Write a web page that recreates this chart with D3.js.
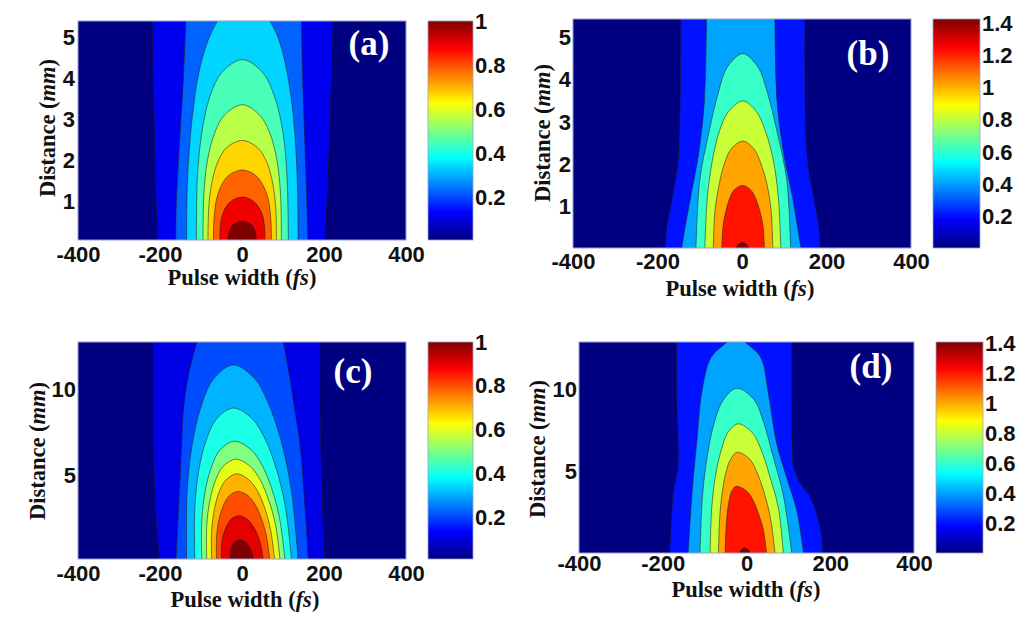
<!DOCTYPE html>
<html><head><meta charset="utf-8">
<script src="https://cdn.jsdelivr.net/npm/d3@7"></script>
<style>body{margin:0;background:#fff} svg{display:block}</style>
</head><body>
<svg id="chart" width="1021" height="618"></svg>
<script>
// ---------- data ----------
const panelLabels = ["(a)", "(b)", "(c)", "(d)"];
const pulseTicks = [-400, -200, 0, 200, 400];
const pulseRange = [-400, 400];
const distanceRange = [[0.065, 5.4], [0.02, 5.44], [0.12, 12.8], [0, 12.9]];
const distanceTicks = [[1, 2, 3, 4, 5], [1, 2, 3, 4, 5], [5, 10], [5, 10]];
const intensityRange = [[0.005, 1], [0.005, 1.425], [0.012, 1], [0.005, 1.41]];
const intensityTicks = [[0.2, 0.4, 0.6, 0.8, 1], [0.2, 0.4, 0.6, 0.8, 1, 1.2, 1.4],
                        [0.2, 0.4, 0.6, 0.8, 1], [0.2, 0.4, 0.6, 0.8, 1, 1.2, 1.4]];

// contour boundaries, outermost first: rows of [distance (mm), left edge (fs), right edge (fs)]
const contoursA = [
  [[0,-205,202],[1,-209,207],[2.5,-213,213],[4,-216,218],[5.4,-218,222]],
  [[0,-162,161],[1,-160,158],[2.5,-152,153],[4,-143,148],[5.4,-137,145]],
  [[0,-135,137],[1.5,-133,135],[3,-122,126],[4.2,-104,109],[5,-80,88],[5.4,-60,68]],
  [[0,-111,113],[1.56,-109,110],[2.68,-98,100],[3.57,-78,79],[4.15,-49,50],[4.46,1,1]],
  [[0,-95,96],[1.18,-93,94],[2.02,-84,85],[2.69,-66,67],[3.12,-42,42],[3.36,1,1]],
  [[0,-83,84],[0.87,-81,82],[1.49,-73,74],[1.99,-58,59],[2.32,-37,37],[2.49,1,1]],
  [[0,-70,72],[0.62,-68,70],[1.06,-62,64],[1.42,-49,50],[1.65,-31,32],[1.77,1,1]],
  [[0,-54,56],[0.39,-53,55],[0.67,-48,50],[0.89,-38,39],[1.03,-24,25],[1.11,1,1]],
  [[0,-34,35],[0.18,-33,34],[0.31,-30,31],[0.42,-24,25],[0.48,-15,16],[0.52,1,1]]
];
const contoursB = [
  [[0,-182,185],[0.5,-178,182],[1.2,-165,170],[2,-152,156],[3,-147,150],[5.44,-145,149]],
  [[0,-143,140],[0.6,-133,130],[1.2,-122,120],[2.3,-102,98],[3.5,-89,83],[5.44,-84,78]],
  [[0,-109,115],[1.62,-100,106],[2.77,-78,83],[3.7,-56,60],[4.3,-35,38],[4.62,2,2]],
  [[0,-88,92],[1.22,-82,86],[2.1,-70,74],[2.8,-53,55],[3.25,-32,34],[3.5,2,2]],
  [[0,-68,73],[0.89,-64,69],[1.53,-54,59],[2.04,-41,44],[2.37,-25,28],[2.55,2,2]],
  [[0,-48,53],[0.52,-45,50],[0.9,-38,42],[1.2,-29,32],[1.4,-18,20],[1.5,2,2]],
  [[0,-14,16],[0.08,-11,13],[0.15,1,1]]
];
const contoursC = [
  [[0,-200,202],[2,-208,198],[6,-215,193],[9,-216,190],[12.8,-216,189]],
  [[0,-161,162],[3,-155,154],[6.9,-147,141],[8.8,-143,129],[10.8,-131,116],[12.8,-110,101]],
  [[0,-135,137],[4.01,-134,121],[6.88,-121,97],[9.17,-98,65],[10.66,-69,31],[11.46,-21,-21]],
  [[0,-115,121],[3.13,-115,106],[5.36,-105,84],[7.15,-86,56],[8.31,-62,25],[8.94,-21,-21]],
  [[0,-98,105],[2.45,-98,92],[4.2,-89,73],[5.6,-73,49],[6.51,-53,22],[7.0,-18,-18]],
  [[0,-86,93],[2.08,-86,82],[3.57,-78,65],[4.76,-64,44],[5.53,-46,20],[5.95,-15,-15]],
  [[0,-74,80],[1.79,-74,70],[3.06,-67,56],[4.08,-55,38],[4.74,-39,17],[5.1,-13,-13]],
  [[0,-62,68],[1.42,-62,60],[2.44,-56,48],[3.26,-45,33],[3.79,-32,16],[4.07,-10,-10]],
  [[0,-50,52],[0.93,-50,46],[1.59,-45,37],[2.12,-36,25],[2.46,-26,12],[2.65,-8,-8]],
  [[0,-29,28],[0.44,-29,25],[0.75,-26,19],[1.0,-21,13],[1.16,-15,6],[1.25,-5,-5]]
];
const contoursD = [
  [[0,-184,182],[1.2,-181,178],[2.6,-178,165],[3.6,-175,148],[4.2,-171,130],[5.2,-164,113],[6.5,-163,109],[9,-166,108],[12.9,-167,108]],
  [[0,-139,136],[2.6,-133,120],[4.6,-127,96],[6.7,-119,72],[9.8,-107,52],[11.85,-87,36],[12.5,-65,15],[13.1,-25,-25]],
  [[0,-111,108],[3.52,-105,88],[6.04,-93,62],[8.06,-76,40],[9.37,-55,18],[10.07,-23,-23]],
  [[0,-87,88],[2.77,-83,76],[4.74,-74,55],[6.32,-60,35],[7.35,-45,14],[7.9,-20,-20]],
  [[0,-67,68],[2.16,-64,57],[3.7,-58,42],[4.93,-49,25],[5.73,-38,8],[6.16,-22,-22]],
  [[0,-51,48],[1.43,-49,40],[2.45,-46,28],[3.26,-41,15],[3.79,-35,0],[4.08,-25,-25]],
  [[0,-16,8],[0.15,-14,6],[0.3,-4,-4]]
];
const panelContours = [contoursA, contoursB, contoursC, contoursD];

// ---------- layout ----------
const layout = [
  {plot:[78,21,406,240],   bar:[428,473], xPad:6, yPad:3, xTitle:[242,285], yTitle:[55,128],  tag:[369,55]},
  {plot:[573,19,911,248],  bar:[933,980], xPad:5, yPad:2, xTitle:[740,296], yTitle:[550,133], tag:[868,65]},
  {plot:[78,342,406,559],  bar:[428,473], xPad:6, yPad:2, xTitle:[245,607], yTitle:[45,451],  tag:[353,383]},
  {plot:[579,342,914,553], bar:[936,983], xPad:2, yPad:2, xTitle:[746,597], yTitle:[545,449], tag:[871,378]}
];

function jet(t) {
  const c = v => Math.max(0, Math.min(1, v));
  const r = c(Math.min(4*t - 1.5, -4*t + 4.5));
  const g = c(Math.min(4*t - 0.5, -4*t + 3.5));
  const b = c(Math.min(4*t + 0.5, -4*t + 2.5));
  return d3.rgb(r*255, g*255, b*255).formatHex();
}

const svg = d3.select("#chart");
svg.append("rect").attr("width",1021).attr("height",618).attr("fill","#fff");
const defs = svg.append("defs");
const grad = defs.append("linearGradient").attr("id","jetGrad")
  .attr("x1",0).attr("y1",1).attr("x2",0).attr("y2",0);
d3.range(0, 1.0001, 0.0625).forEach(t => grad.append("stop").attr("offset", t).attr("stop-color", jet(t)));

const sans = "'Liberation Sans', Arial, sans-serif";
const serif = "'Liberation Serif', 'Times New Roman', serif";
const archLine = d3.line().curve(d3.curveCatmullRom.alpha(0.5));
const sideLine = d3.line().curve(d3.curveCatmullRom.alpha(0.5));
const plain = d => String(d);

panelContours.forEach((contours, i) => {
  const L = layout[i];
  const [x0, y0, x1, y1] = L.plot;
  const x = d3.scaleLinear().domain(pulseRange).range([x0, x1]);
  const y = d3.scaleLinear().domain(distanceRange[i]).range([y1, y0]);
  const g = svg.append("g");

  defs.append("clipPath").attr("id", "clip" + i)
    .append("rect").attr("x", x0).attr("y", y0).attr("width", x1 - x0).attr("height", y1 - y0);
  const cg = g.append("g").attr("clip-path", `url(#clip${i})`);

  const n = contours.length + 1;
  cg.append("rect").attr("x", x0).attr("y", y0).attr("width", x1 - x0).attr("height", y1 - y0)
    .attr("fill", jet(0));

  contours.forEach((rows, k) => {
    const last = rows[rows.length - 1];
    const closed = last[1] === last[2];
    const color = jet((k + 1) / (n - 1));
    const stroke = p => p.attr("fill", "none").attr("stroke", "#1c1c1c")
      .attr("stroke-opacity", 0.6).attr("stroke-width", 0.9);
    if (closed) {
      const leftPts = rows.map(r => [x(r[1]), y(r[0])]);
      const rightPts = rows.slice(0, rows.length - 1).reverse().map(r => [x(r[2]), y(r[0])]);
      const pts = leftPts.concat(rightPts);
      cg.append("path").attr("d", archLine(pts) + "Z").attr("fill", color);
      cg.append("path").attr("d", archLine(pts)).call(stroke);
    } else {
      const leftPts = rows.map(r => [x(r[1]), y(r[0])]);
      const rightPts = rows.slice().reverse().map(r => [x(r[2]), y(r[0])]);
      const lp = sideLine(leftPts), rp = sideLine(rightPts);
      cg.append("path").attr("d", lp + "L" + rp.slice(1) + "Z").attr("fill", color);
      cg.append("path").attr("d", lp).call(stroke);
      cg.append("path").attr("d", rp).call(stroke);
    }
  });

  g.append("rect").attr("x", x0).attr("y", y0).attr("width", x1 - x0).attr("height", y1 - y0)
    .attr("fill", "none").attr("stroke", "#9aa0c8").attr("stroke-width", 1);

  // axes
  const xa = g.append("g").attr("transform", `translate(0,${y1})`)
    .call(d3.axisBottom(x).tickValues(pulseTicks).tickSize(0).tickPadding(L.xPad).tickFormat(plain));
  const ya = g.append("g").attr("transform", `translate(${x0},0)`)
    .call(d3.axisLeft(y).tickValues(distanceTicks[i]).tickSize(0).tickPadding(L.yPad).tickFormat(plain));
  [xa, ya].forEach(a => {
    a.select(".domain").remove();
    a.selectAll("text").attr("font-family", sans).attr("font-weight", "bold").attr("font-size", 22).attr("fill", "#111");
  });

  // titles
  const xt = g.append("text").attr("x", L.xTitle[0]).attr("y", L.xTitle[1]).attr("text-anchor", "middle")
    .attr("font-family", serif).attr("font-weight", "bold").attr("font-size", 22.5).attr("fill", "#111");
  xt.append("tspan").text("Pulse width (");
  xt.append("tspan").attr("font-style", "italic").text("fs");
  xt.append("tspan").text(")");

  const yt = g.append("text").attr("transform", `translate(${L.yTitle[0]},${L.yTitle[1]}) rotate(-90)`)
    .attr("text-anchor", "middle").attr("font-family", serif).attr("font-weight", "bold")
    .attr("font-size", 22.5).attr("fill", "#111");
  yt.append("tspan").text("Distance (");
  yt.append("tspan").attr("font-style", "italic").text("mm");
  yt.append("tspan").text(")");

  g.append("text").attr("x", L.tag[0]).attr("y", L.tag[1]).attr("text-anchor", "middle")
    .attr("font-family", serif).attr("font-weight", "bold").attr("font-size", 35).attr("fill", "#fff")
    .text(panelLabels[i]);

  // colorbar
  const cb = d3.scaleLinear().domain(intensityRange[i]).range([y1, y0]);
  g.append("rect").attr("x", L.bar[0]).attr("y", y0).attr("width", L.bar[1] - L.bar[0]).attr("height", y1 - y0)
    .attr("fill", "url(#jetGrad)").attr("stroke", "#9aa0c8").attr("stroke-width", 0.8);
  const ca = g.append("g").attr("transform", `translate(${L.bar[1]},0)`)
    .call(d3.axisRight(cb).tickValues(intensityTicks[i]).tickSize(0).tickPadding(2).tickFormat(plain));
  ca.select(".domain").remove();
  ca.selectAll("text").attr("font-family", sans).attr("font-weight", "bold").attr("font-size", 22).attr("fill", "#111");
});
</script>
</body></html>
